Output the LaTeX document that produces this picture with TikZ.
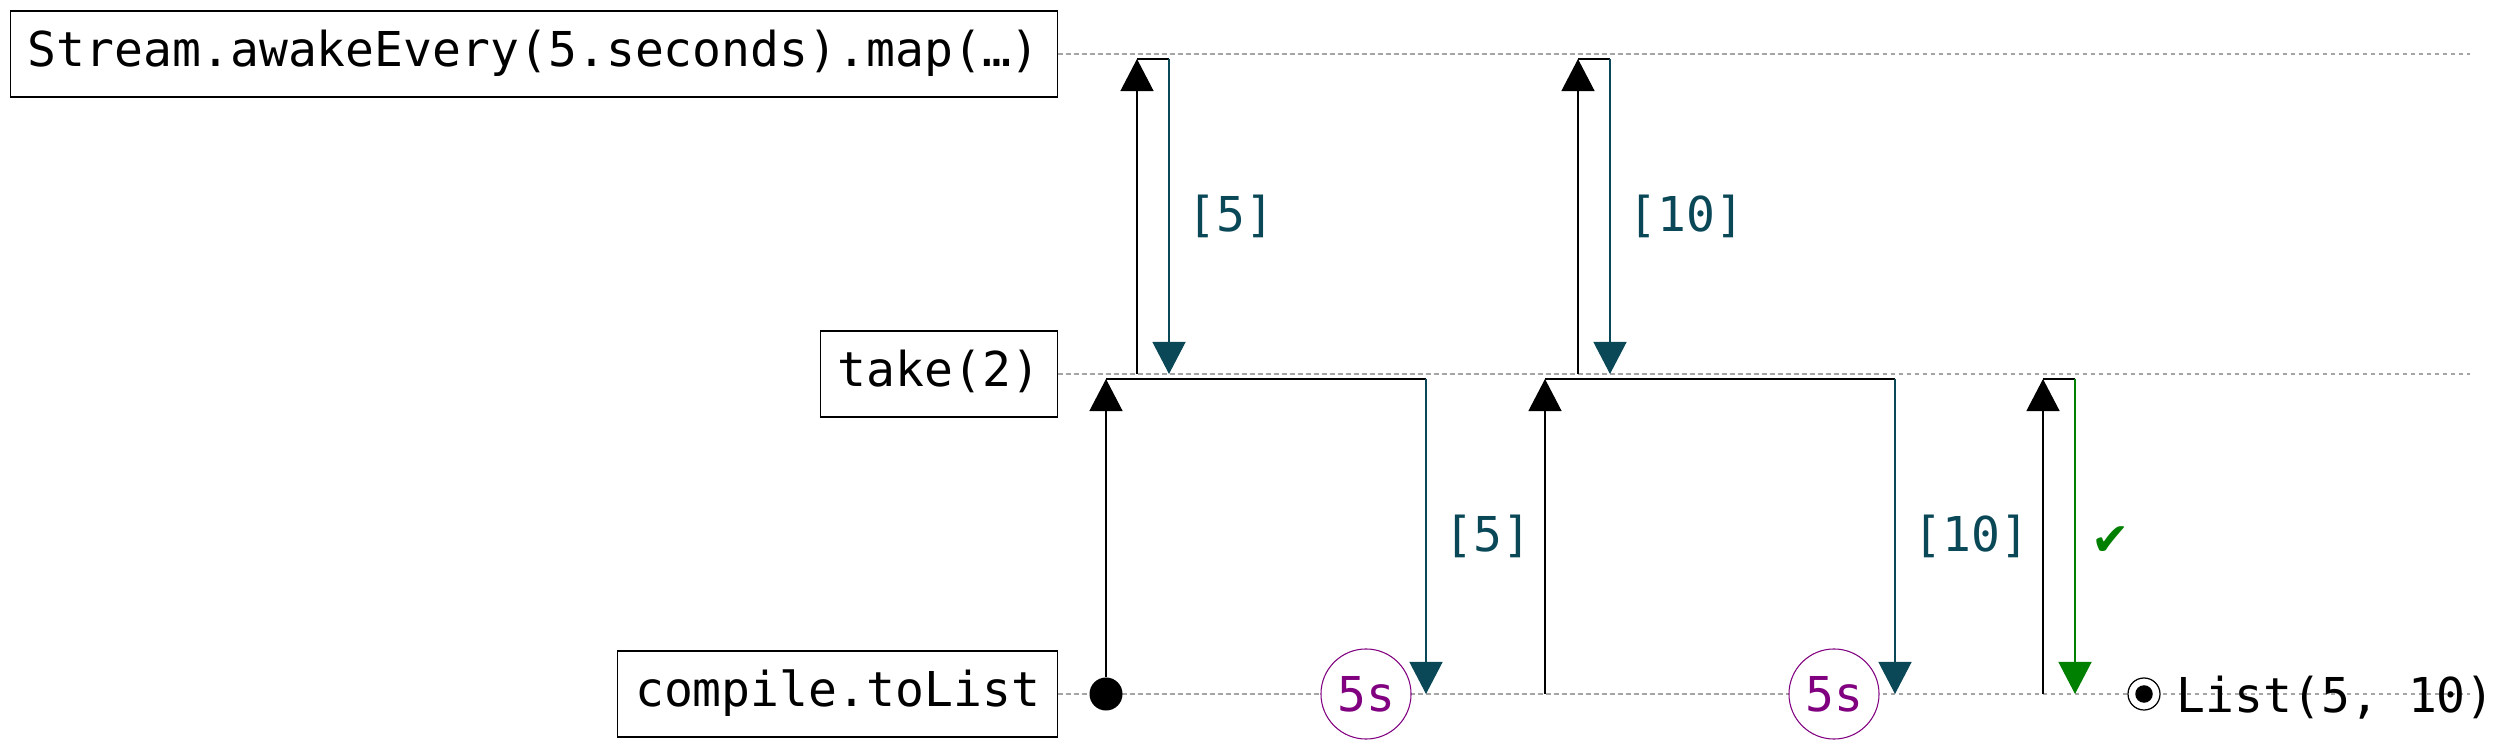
\documentclass[tikz,border=0pt]{standalone}
\usepackage{fontspec}
\setmonofont{DejaVu Sans Mono}
\newfontfamily\symfont{DejaVu Sans}
\usetikzlibrary{arrows.meta}

\definecolor{respcol}{RGB}{10,72,88}
\definecolor{tickcol}{RGB}{128,0,128}
\definecolor{donecol}{RGB}{0,128,0}
\definecolor{lanecol}{RGB}{165,165,165}

\tikzset{
  opbox/.style={draw, line width=0.4pt, anchor=east, inner xsep=0.173cm,
    minimum height=0.86cm, text height=0.73em, text depth=0pt},
  lane/.style={draw=lanecol, line width=0.3pt, dash pattern=on 0.045cm off 0.035cm},
  req/.style={draw=black, line width=0.35pt, -{Triangle[width=0.33cm, length=0.32cm]}},
  link/.style={draw=black, line width=0.35pt},
  resp/.style={draw=respcol, line width=0.35pt, -{Triangle[width=0.33cm, length=0.32cm, fill=respcol]}},
  fin/.style={draw=donecol, line width=0.35pt, -{Triangle[width=0.33cm, length=0.32cm, fill=donecol]}},
  lbl/.style={midway, anchor=west, inner sep=0pt, xshift=0.18cm, text=respcol},
  tick/.style={circle, draw=tickcol, line width=0.3pt, fill=white, text=tickcol,
    minimum size=0.9cm, inner sep=0pt},
}

\begin{document}
\begin{tikzpicture}[x=0.01cm, y=-0.01cm, font=\fontsize{13.66}{16}\selectfont\ttfamily]
\useasboundingbox (0,0) rectangle (2505,749);

% operators
\node (src) at (1058,54) [opbox] {Stream.awakeEvery(5.seconds).map(…)};
\node (take) at (1058,374) [opbox] {take(2)};
\node (sink) at (1058,694) [opbox] {compile.toList};

\coordinate (srcend) at (2470,54);
\coordinate (takeend) at (2470,374);
\coordinate (sinkend) at (2470,694);
\path [lane] (src.east) -- (srcend);
\path [lane] (take.east) -- (takeend);
\path [lane] (sink.east) -- (sinkend);

% pull 1
\node (start) at (1106,694) [circle, fill, minimum size=0.33cm, inner sep=0pt] {};
\coordinate (u1) at (1106,379);
\coordinate (v1) at (1426,379);
\coordinate (w1) at (1426,694);
\coordinate (a1) at (1137,374);
\coordinate (b1) at (1137,59);
\coordinate (c1) at (1169,59);
\coordinate (e1) at (1169,374);
\path [req] (start) -- (u1);
\path [link] (u1) -- (v1);
\path [req] (a1) -- (b1);
\path [link] (b1) -- (c1);
\path [resp] (c1) -- node [lbl] {[5]} (e1);
\path [resp] (v1) -- node [lbl] {[5]} (w1);
\node (wait1) at (1366,694) [tick] {5s};

% pull 2
\coordinate (s2) at (1545,694);
\coordinate (u2) at (1545,379);
\coordinate (v2) at (1895,379);
\coordinate (w2) at (1895,694);
\coordinate (a2) at (1578,374);
\coordinate (b2) at (1578,59);
\coordinate (c2) at (1610,59);
\coordinate (e2) at (1610,374);
\path [req] (s2) -- (u2);
\path [link] (u2) -- (v2);
\path [req] (a2) -- (b2);
\path [link] (b2) -- (c2);
\path [resp] (c2) -- node [lbl] {[10]} (e2);
\path [resp] (v2) -- node [lbl] {[10]} (w2);
\node (wait2) at (1834,694) [tick] {5s};

% pull 3
\coordinate (s3) at (2043,694);
\coordinate (u3) at (2043,379);
\coordinate (v3) at (2075,379);
\coordinate (w3) at (2075,694);
\path [req] (s3) -- (u3);
\path [link] (u3) -- (v3);
\path [fin] (v3) -- node [lbl, text=donecol, font=\symfont\fontsize{13}{15}\selectfont, xshift=-0.02cm, yshift=-0.05cm] {✔} (w3);

% result
\node (stop) at (2144,694) [circle, draw, line width=0.35pt, fill=white, minimum size=0.32cm, inner sep=0pt] {};
\node (stopdot) at (stop) [circle, fill, minimum size=0.175cm, inner sep=0pt] {};
\node (result) at (2176,712) [anchor=base west, inner sep=0pt] {List(5, 10)};
\end{tikzpicture}
\end{document}
